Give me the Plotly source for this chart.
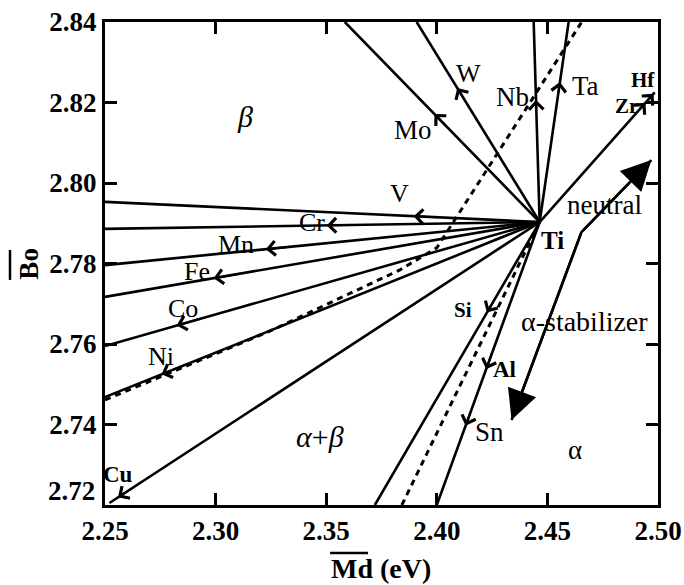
import plotly.graph_objects as go

# ---------------- data ----------------
ti_md, ti_bo = 2.4465, 2.7903

line_names = ["V", "Cr", "Mn", "Fe", "Co", "Ni", "Cu", "Si", "Al-Sn", "Mo", "W", "Nb", "Ta", "Zr-Hf"]
line_end_md = [2.25, 2.25, 2.25, 2.25, 2.25, 2.25, 2.252, 2.372, 2.400, 2.3584, 2.3909, 2.4438, 2.4596, 2.4985]
line_end_bo = [2.7953, 2.7886, 2.7796, 2.7717, 2.7595, 2.7468, 2.7205, 2.72, 2.72, 2.84, 2.84, 2.84, 2.84, 2.8225]

arrow_names = ["V", "Cr", "Mn", "Fe", "Co", "Ni", "Cu", "Si", "Al", "Sn", "Mo", "W", "Nb", "Ta", "Hf", "Zr"]
arrow_line = [0, 1, 2, 3, 4, 5, 6, 7, 8, 8, 9, 10, 11, 12, 13, 13]
arrow_frac = [0.29, 0.49, 0.63, 0.75, 0.835, 0.87, 0.98, 0.32, 0.52, 0.72, 0.54, 0.67, 0.61, 0.70, 0.99, 0.92]

beta_bound_md = [2.25, 2.3245, 2.3833, 2.400, 2.4104, 2.4655]
beta_bound_bo = [2.7461, 2.7632, 2.7784, 2.7839, 2.7928, 2.84]
alpha_bound_md = [2.3842, ti_md]
alpha_bound_bo = [2.72, ti_bo]

trend_md = [2.4338, 2.4654, 2.497]
trend_bo = [2.7411, 2.7878, 2.8057]

label_text = ["<i>β</i>", "V", "Cr", "Mn", "Fe", "Co", "Ni", "<b>Cu</b>", "Mo", "W", "Nb", "Ta",
              "<b>Hf</b>", "<b>Zr</b>", "neutral", "<b>Ti</b>", "<b>Si</b>", "α-stabilizer",
              "<b>Al</b>", "Sn", "<i>α</i>+<i>β</i>", "α"]
label_md = [2.3132, 2.3833, 2.3435, 2.3092, 2.2916, 2.2852, 2.2753, 2.2559, 2.3891, 2.4144, 2.4343, 2.4673,
            2.4930, 2.4858, 2.4760, 2.4524, 2.4117, 2.4668, 2.4307, 2.4239, 2.3471, 2.4623]
label_bo = [2.8164, 2.7975, 2.7903, 2.7846, 2.7779, 2.7687, 2.7570, 2.7277, 2.8132, 2.8271, 2.8214, 2.8241,
            2.8256, 2.8191, 2.7945, 2.7858, 2.7685, 2.7655, 2.7536, 2.7382, 2.7369, 2.7337]
label_size = [30, 26, 26, 26, 26, 26, 26, 23, 27, 26, 27, 27,
              21, 21, 27, 25, 21, 28, 23, 27, 30, 27]

x_ticks = [2.25, 2.30, 2.35, 2.40, 2.45, 2.50]
x_ticktext = ["2.25", "2.30", "2.35", "2.40", "2.45", "2.50"]
y_ticks = [2.72, 2.74, 2.76, 2.78, 2.80, 2.82, 2.84]
y_ticktext = ["2.72", "2.74", "2.76", "2.78", "2.80", "2.82", "2.84"]

FONT = "Liberation Serif, Times New Roman, serif"

fig = go.Figure()

# element lines from Ti
for name, emd, ebo in zip(line_names, line_end_md, line_end_bo):
    fig.add_trace(go.Scatter(x=[ti_md, emd], y=[ti_bo, ebo], mode="lines",
                             line=dict(color="black", width=2.6), name=name,
                             showlegend=False, hoverinfo="skip"))

# boundaries (dashed)
fig.add_trace(go.Scatter(x=beta_bound_md, y=beta_bound_bo, mode="lines",
                         line=dict(color="black", width=3, dash="6px,5px"),
                         showlegend=False, hoverinfo="skip"))
fig.add_trace(go.Scatter(x=alpha_bound_md, y=alpha_bound_bo, mode="lines",
                         line=dict(color="black", width=3, dash="6px,5px"),
                         showlegend=False, hoverinfo="skip"))

# neutral / alpha-stabilizer trend line
fig.add_trace(go.Scatter(x=trend_md, y=trend_bo, mode="lines",
                         line=dict(color="black", width=2.6),
                         showlegend=False, hoverinfo="skip"))

annotations = []
# small arrowheads on element lines
for name, li, t in zip(arrow_names, arrow_line, arrow_frac):
    dx = line_end_md[li] - ti_md
    dy = line_end_bo[li] - ti_bo
    tip = (ti_md + t * dx, ti_bo + t * dy)
    tail = (ti_md + (t - 0.06) * dx, ti_bo + (t - 0.06) * dy)
    annotations.append(dict(x=tip[0], y=tip[1], ax=tail[0], ay=tail[1],
                            xref="x", yref="y", axref="x", ayref="y",
                            text="", showarrow=True, arrowhead=4, arrowsize=1.4,
                            arrowwidth=2, arrowcolor="black", standoff=0))

# big arrowheads on trend line
for end_i in (0, 2):
    annotations.append(dict(x=trend_md[end_i], y=trend_bo[end_i], ax=trend_md[1], ay=trend_bo[1],
                            xref="x", yref="y", axref="x", ayref="y",
                            text="", showarrow=True, arrowhead=2, arrowsize=2.3,
                            arrowwidth=2.6, arrowcolor="black", standoff=0))

# text labels
for txt, md, bo, sz in zip(label_text, label_md, label_bo, label_size):
    annotations.append(dict(x=md, y=bo, xref="x", yref="y", text=txt, showarrow=False,
                            xanchor="center", yanchor="middle",
                            font=dict(family=FONT, size=sz, color="black")))

# 2.72 tick label (raised in the original)
annotations.append(dict(x=0, y=y_ticks[0], xref="paper", yref="y", text="<b>" + y_ticktext[0] + "</b>",
                        showarrow=False, xanchor="right", yanchor="middle", xshift=-8, yshift=14,
                        font=dict(family=FONT, size=27, color="black")))

# axis titles
annotations.append(dict(x=0.499, y=-0.1325, xref="paper", yref="paper", text="<b>Md (eV)</b>",
                        showarrow=False, xanchor="center", yanchor="middle",
                        font=dict(family=FONT, size=28, color="black")))
annotations.append(dict(x=-0.139, y=0.50, xref="paper", yref="paper", text="<b>Bo</b>",
                        showarrow=False, xanchor="center", yanchor="middle", textangle=-90,
                        font=dict(family=FONT, size=27, color="black")))

shapes = [
    dict(type="line", xref="paper", yref="paper", x0=0.407, x1=0.4756, y0=-0.0994, y1=-0.0994,
         line=dict(color="black", width=2.5)),
    dict(type="line", xref="paper", yref="paper", x0=-0.1718, x1=-0.1718, y0=0.466, y1=0.528,
         line=dict(color="black", width=2.5)),
]

axis_common = dict(showline=True, linecolor="black", linewidth=3, mirror="ticks",
                   ticks="inside", ticklen=12, tickwidth=2.5, tickcolor="black",
                   showgrid=False, zeroline=False, automargin=False,
                   tickfont=dict(family=FONT, size=27, color="black", weight="bold"))

fig.update_layout(
    width=684, height=585,
    margin=dict(l=105, r=26, t=22, b=80),
    paper_bgcolor="white", plot_bgcolor="white",
    xaxis=dict(range=[2.25, 2.50], tickvals=x_ticks, ticktext=x_ticktext, **axis_common),
    yaxis=dict(range=[2.72, 2.84], tickvals=y_ticks, ticktext=[""] + y_ticktext[1:], **axis_common),
    annotations=annotations,
    shapes=shapes,
    showlegend=False,
)

fig.write_html("out.html")
